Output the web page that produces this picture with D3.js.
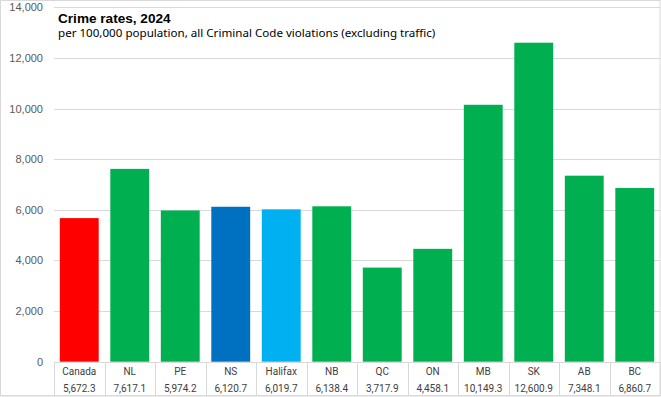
<!DOCTYPE html>
<html><head><meta charset="utf-8">
<script src="https://cdn.jsdelivr.net/npm/d3@7"></script>
<style>html,body{margin:0;padding:0;background:#fff;}svg{display:block;}</style>
</head><body>
<script>
const categories = ["Canada","NL","PE","NS","Halifax","NB","QC","ON","MB","SK","AB","BC"];
const values = [5672.3,7617.1,5974.2,6120.7,6019.7,6138.4,3717.9,4458.1,10149.3,12600.9,7348.1,6860.7];
const valueLabels = ["5,672.3","7,617.1","5,974.2","6,120.7","6,019.7","6,138.4","3,717.9","4,458.1","10,149.3","12,600.9","7,348.1","6,860.7"];
const barColors = ["#FF0000","#00B050","#00B050","#0070C0","#00B0F0","#00B050","#00B050","#00B050","#00B050","#00B050","#00B050","#00B050"];
const yTicks = [0,2000,4000,6000,8000,10000,12000,14000];
const title = "Crime rates, 2024";
const subtitle = "per 100,000 population, all Criminal Code violations (excluding traffic)";

const W = 661, H = 397;
const plotLeft = 54, plotRight = 660, plotTop = 7.3, plotBottom = 361.7;
const svg = d3.select("body").append("svg").attr("width", W).attr("height", H);

// frame
svg.append("rect").attr("x",0.5).attr("y",0.5).attr("width",W-1.5).attr("height",H-1.5)
  .attr("fill","#fff").attr("stroke","#d9d9d9").attr("stroke-width",1);

const x = d3.scaleBand().domain(categories).range([plotLeft, plotRight]).paddingInner(0.23).paddingOuter(0.115);
const xCell = d3.scaleBand().domain(categories).range([plotLeft, plotRight]);
const y = d3.scaleLinear().domain([0,14000]).range([plotBottom, plotTop]);

// gridlines
svg.append("g").selectAll("line").data(yTicks.filter(d=>d>0)).join("line")
  .attr("x1", plotLeft).attr("x2", plotRight)
  .attr("y1", d=>Math.round(y(d))+0.5).attr("y2", d=>Math.round(y(d))+0.5)
  .attr("stroke","#d9d9d9").attr("stroke-width",1);

// y-axis labels
const yAxis = d3.axisLeft(y).tickValues(yTicks).tickSize(0).tickPadding(0).tickFormat(d3.format(","));
const ya = svg.append("g").attr("transform","translate(43,0)").call(yAxis);
ya.select(".domain").remove();
ya.selectAll("text").attr("font-family","'Liberation Sans', Arial, sans-serif").attr("font-size","11px").attr("fill","#595959");

// bars
svg.append("g").selectAll("rect").data(categories).join("rect")
  .attr("x", d=>x(d)).attr("width", x.bandwidth())
  .attr("y", (d,i)=>y(values[i])).attr("height", (d,i)=>y(0)-y(values[i]))
  .attr("fill", (d,i)=>barColors[i]);

// data table
const tableTop = Math.round(y(0))+0.5, tableBottom = 395.5;
svg.append("line").attr("x1",plotLeft).attr("x2",plotRight).attr("y1",tableTop).attr("y2",tableTop)
  .attr("stroke","#d9d9d9");
svg.append("line").attr("x1",0).attr("x2",plotRight).attr("y1",tableBottom).attr("y2",tableBottom)
  .attr("stroke","#d9d9d9");
const bounds = categories.map(c=>xCell(c)).concat([plotRight]);
svg.append("g").selectAll("line").data(bounds).join("line")
  .attr("x1", d=>Math.round(d)+0.5).attr("x2", d=>Math.round(d)+0.5)
  .attr("y1", tableTop).attr("y2", tableBottom)
  .attr("stroke","#d9d9d9");
const tg = svg.append("g").attr("font-family","Roboto, 'Liberation Sans', sans-serif").attr("font-size","10px").attr("fill","#404040").attr("text-anchor","middle");
tg.selectAll("text.cat").data(categories).join("text").attr("class","cat")
  .attr("x", d=>xCell(d)+xCell.bandwidth()/2).attr("y", 375).text(d=>d);
tg.selectAll("text.val").data(valueLabels).join("text").attr("class","val")
  .attr("x", (d,i)=>xCell(categories[i])+xCell.bandwidth()/2).attr("y", 391.5).text(d=>d);

// title
svg.append("text").attr("x",58).attr("y",22.5).attr("font-family","'Liberation Sans', Arial, sans-serif")
  .attr("font-weight","bold").attr("font-size","13.6px").attr("fill","#000").text(title);
svg.append("text").attr("x",58).attr("y",37).attr("font-family","'Noto Sans', sans-serif")
  .attr("font-size","11.6px").attr("fill","#000").text(subtitle);
</script>
</body></html>
